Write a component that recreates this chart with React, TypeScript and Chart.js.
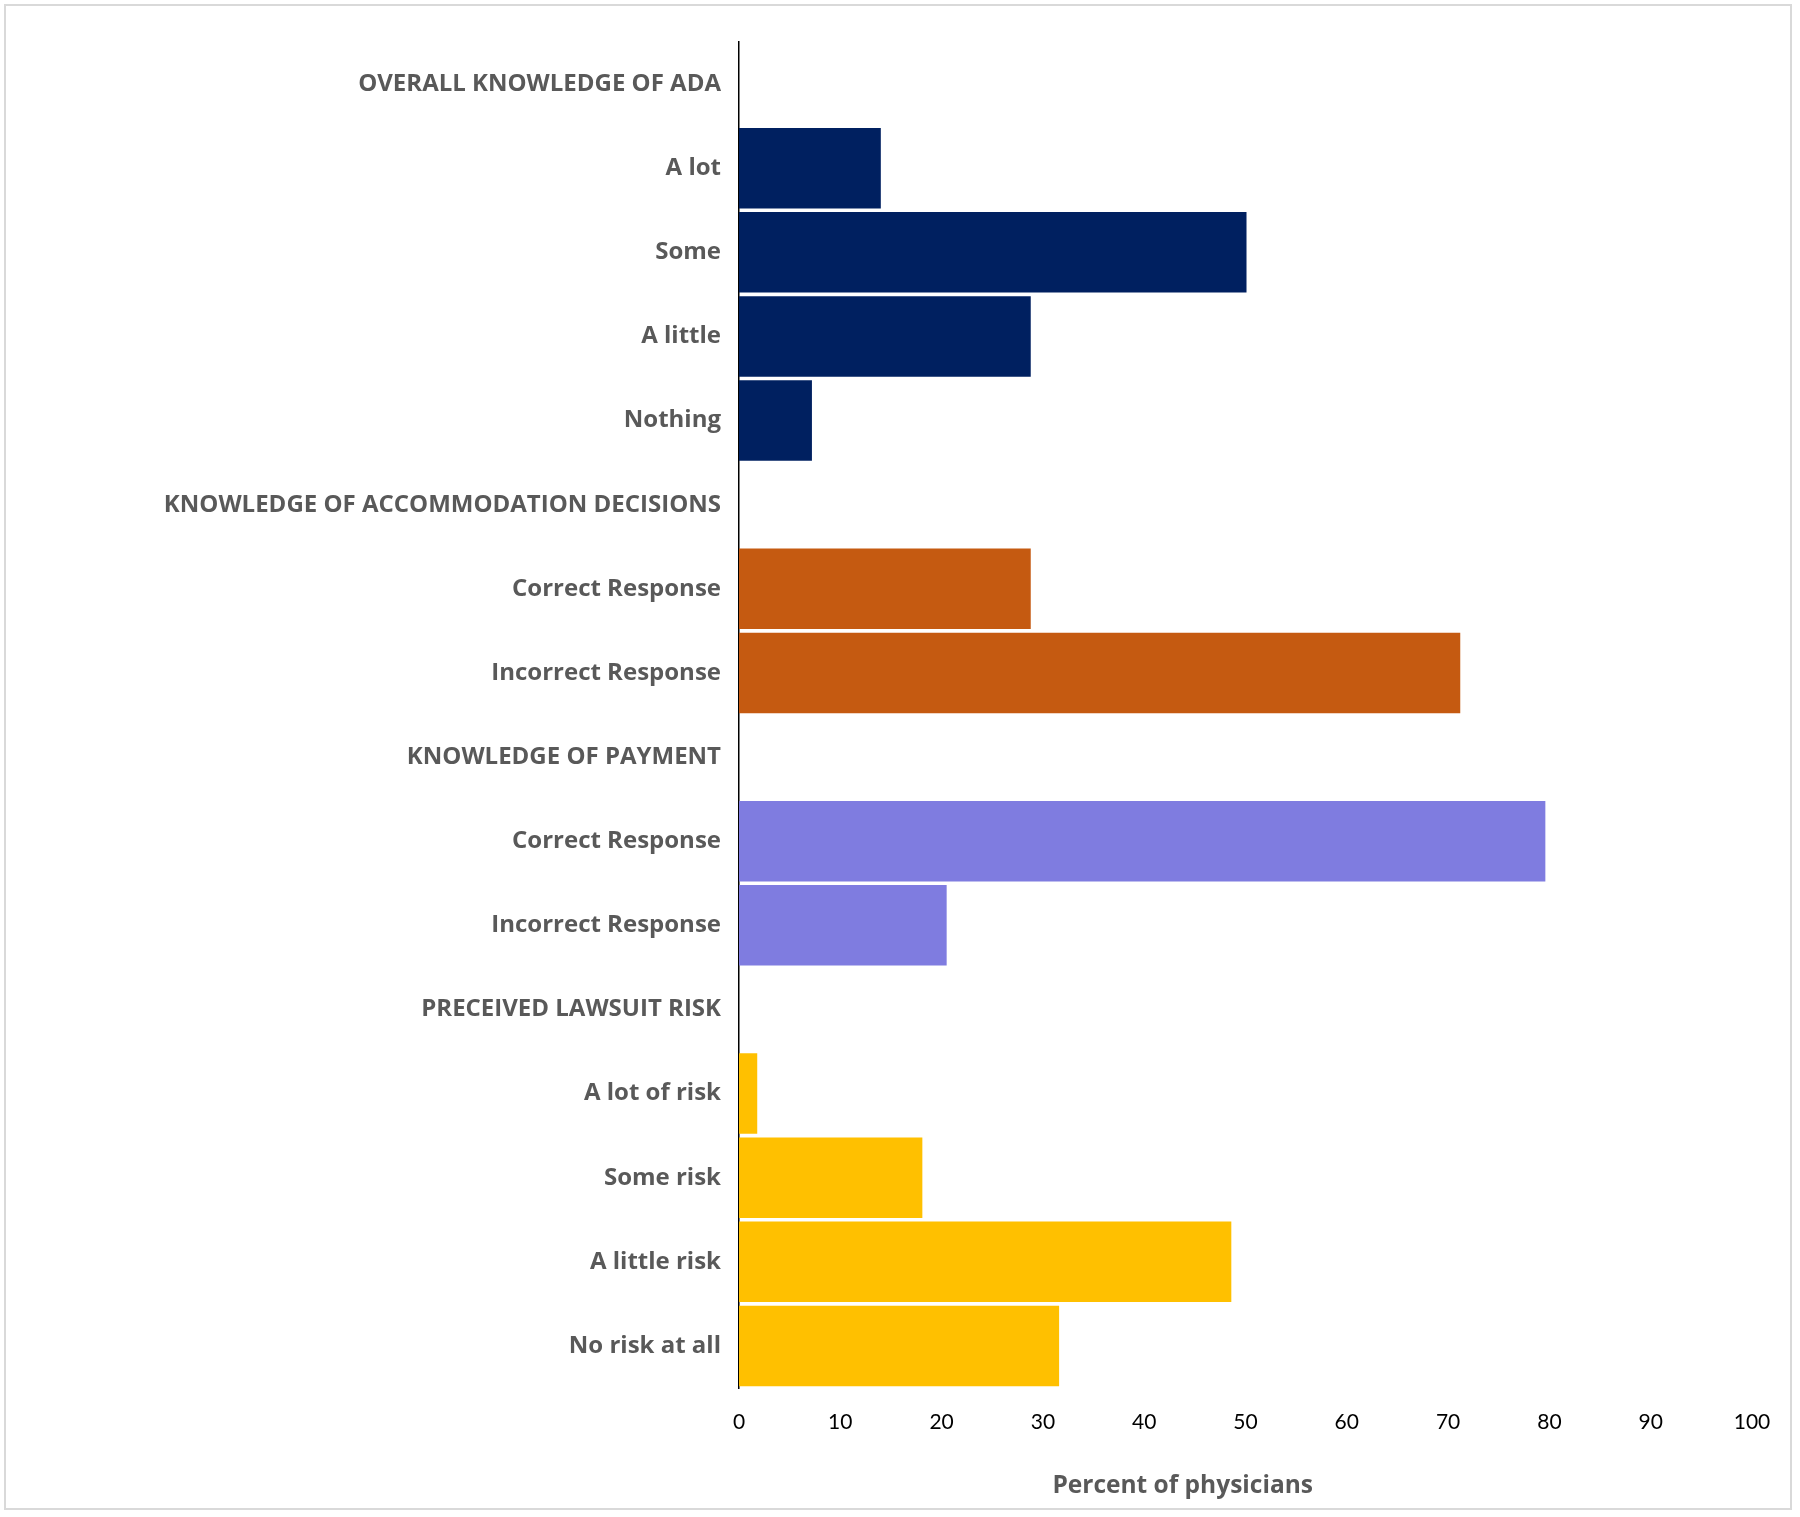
import React, { useEffect, useRef } from "react";
import { Chart, registerables } from "chart.js";

Chart.register(...registerables);

// ---- Data ----
const groupTitles = [
  "OVERALL KNOWLEDGE OF ADA",
  "KNOWLEDGE OF ACCOMMODATION DECISIONS",
  "KNOWLEDGE OF PAYMENT",
  "PRECEIVED LAWSUIT RISK",
];
const adaLabels = ["A lot", "Some", "A little", "Nothing"];
const adaValues = [14.0, 50.1, 28.8, 7.2];
const accommodationLabels = ["Correct Response", "Incorrect Response"];
const accommodationValues = [28.8, 71.2];
const paymentLabels = ["Correct Response", "Incorrect Response"];
const paymentValues = [79.6, 20.5];
const lawsuitLabels = ["A lot of risk", "Some risk", "A little risk", "No risk at all"];
const lawsuitValues = [1.8, 18.1, 48.6, 31.6];
const groupColors = ["#002060", "#C55A11", "#7F7CE0", "#FFC000"];
const xTicks = [0, 10, 20, 30, 40, 50, 60, 70, 80, 90, 100];
const xTitle = "Percent of physicians";

const groups = [
  { labels: adaLabels, values: adaValues },
  { labels: accommodationLabels, values: accommodationValues },
  { labels: paymentLabels, values: paymentValues },
  { labels: lawsuitLabels, values: lawsuitValues },
];

const categories: string[] = [];
const values: (number | null)[] = [];
const colors: string[] = [];
groups.forEach((g, gi) => {
  categories.push(groupTitles[gi]);
  values.push(null);
  colors.push(groupColors[gi]);
  g.labels.forEach((l, i) => {
    categories.push(l);
    values.push(g.values[i]);
    colors.push(groupColors[gi]);
  });
});

const W = 1800;
const H = 1517;
const LABEL_FONT = "'Open Sans'";

const xTitlePlugin = {
  id: "xTitlePlugin",
  afterDraw(chart: any) {
    const xs = chart.scales.x;
    const ctx = chart.ctx;
    ctx.save();
    ctx.font = `bold 24.5px ${LABEL_FONT}`;
    ctx.fillStyle = "#595959";
    ctx.textAlign = "center";
    ctx.textBaseline = "middle";
    const cx = xs.left + 0.438 * (xs.right - xs.left);
    ctx.fillText(xTitle, cx, xs.bottom - 31);
    ctx.restore();
  },
};

export default function App() {
  const ref = useRef<HTMLCanvasElement>(null);

  useEffect(() => {
    if (!ref.current) return;
    const chart = new Chart(ref.current, {
      type: "bar",
      data: {
        labels: categories,
        datasets: [
          {
            data: values,
            backgroundColor: colors,
            borderWidth: 0,
            barPercentage: 0.956,
            categoryPercentage: 1,
          },
        ],
      },
      plugins: [xTitlePlugin],
      options: {
        indexAxis: "y",
        responsive: false,
        animation: false,
        devicePixelRatio: 1,
        layout: { padding: { left: 0, right: 48, top: 42, bottom: 0 } },
        plugins: {
          legend: { display: false },
          tooltip: { enabled: false },
        },
        scales: {
          x: {
            type: "linear",
            min: 0,
            max: 100,
            afterBuildTicks: (scale: any) => {
              scale.ticks = xTicks.map((v) => ({ value: v }));
            },
            afterFit: (scale: any) => {
              scale.height = H - 1388;
            },
            grid: { display: false, drawTicks: false },
            border: { display: false },
            ticks: {
              padding: 22,
              color: "#000000",
              font: { family: "Lato", size: 21 },
              maxRotation: 0,
            },
            title: { display: false },
          },
          y: {
            type: "category",
            afterFit: (scale: any) => {
              scale.width = 739;
            },
            grid: { display: false, drawTicks: false },
            border: { display: true, color: "#000000", width: 1.5 },
            ticks: {
              padding: 18,
              color: "#595959",
              font: { family: LABEL_FONT, size: 24, weight: "bold" },
              autoSkip: false,
            },
          },
        },
      },
    });
    return () => chart.destroy();
  }, []);

  return (
    <div
      style={{
        position: "absolute",
        left: 0,
        top: 0,
        width: W,
        height: H,
        background: "#ffffff",
      }}
    >
      <div
        style={{
          position: "absolute",
          left: 4,
          top: 4,
          width: W - 8 - 4,
          height: H - 8 - 3,
          border: "2px solid #D9D9D9",
          boxSizing: "border-box",
        }}
      />
      <canvas
        ref={ref}
        width={W}
        height={H}
        style={{ position: "absolute", left: 0, top: 0, width: W, height: H }}
      />
    </div>
  );
}
